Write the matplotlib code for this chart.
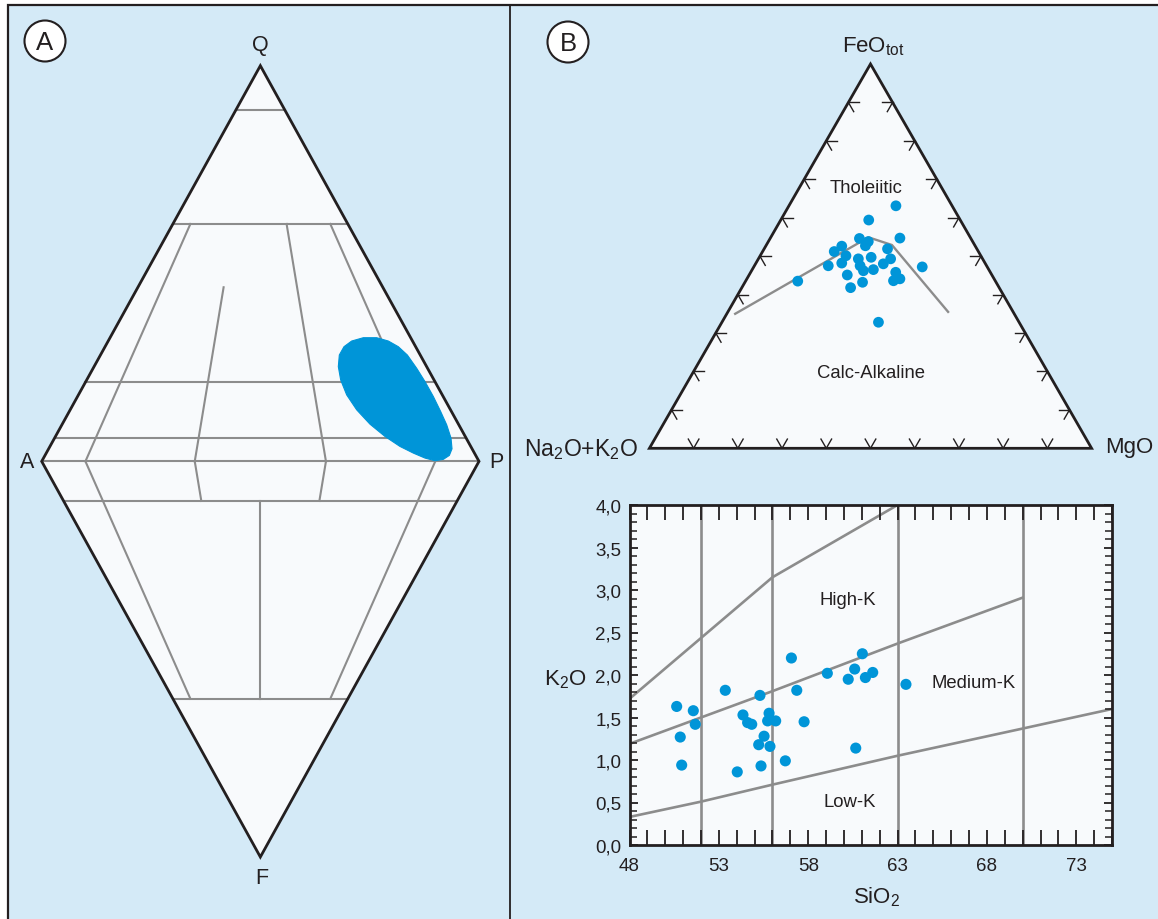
import numpy as np
import matplotlib
matplotlib.use('Agg')
import matplotlib.pyplot as plt
from matplotlib.patches import Polygon, Circle, Rectangle
from matplotlib.ticker import FixedLocator, FixedFormatter, MultipleLocator

plt.rcParams['font.family'] = ['Liberation Sans', 'DejaVu Sans']
plt.rcParams['mathtext.default'] = 'regular'

W, H = 1158, 920

BG_BLUE = '#d4eaf7'
FIELD = '#f8fafc'
DOT = '#0095d8'
GREY = '#8c8c8c'
INK = '#231f20'

# --- panel A: QAPF diamond ---
# horizontal boundaries (fraction Q above A-P, fraction F below)
q_levels = [0.888, 0.60, 0.20, 0.06, 0.0]
f_levels = [0.10, 0.60]
# P/(A+P) boundaries radiating from Q: ratio, from q, to q
q_ray_ratio = [0.10, 0.35, 0.65, 0.90]
q_ray_from = [0.60, 0.44, 0.60, 0.60]
q_ray_to = [0.0, 0.0, 0.0, 0.0]
# P/(A+P) boundaries radiating from F: ratio, from f, to f
f_ray_ratio = [0.10, 0.35, 0.50, 0.65, 0.90]
f_ray_from = [0.0, 0.0, 0.10, 0.0, 0.0]
f_ray_to = [0.60, 0.10, 0.60, 0.10, 0.60]
# outline of the sample field (x across A-P, y = Q fraction)
field_x = [0.7088, 0.7355, 0.7660, 0.7927, 0.8155, 0.8361, 0.8575, 0.8765, 0.8956,
           0.9123, 0.9261, 0.9360, 0.9383, 0.9322, 0.9184, 0.8994, 0.8765, 0.8498,
           0.8193, 0.7851, 0.7507, 0.7203, 0.6974, 0.6837, 0.6783, 0.6806, 0.6913]
field_y = [0.3041, 0.3125, 0.3125, 0.3041, 0.2898, 0.2688, 0.2352, 0.2016, 0.1638,
           0.1260, 0.0924, 0.0587, 0.0318, 0.0150, 0.0050, 0.0016, 0.0083, 0.0209,
           0.0377, 0.0629, 0.0940, 0.1302, 0.1680, 0.2058, 0.2394, 0.2688, 0.2898]

# --- panel B: AFM ternary (wt %) ---
afm_feo = [63.1, 59.4, 54.7, 54.6, 53.8, 52.7, 52.6, 51.2, 50.1, 51.9, 49.3, 49.7, 49.3, 48.2,
           47.5, 47.5, 48.0, 46.5, 46.2, 45.8, 47.2, 45.1, 43.6, 44.1, 43.5, 43.2, 41.8, 32.8]
afm_mgo = [24.2, 19.9, 29.3, 20.2, 22.6, 22.5, 17.2, 16.2, 19.4, 27.9, 29.9, 25.3, 22.6, 19.4,
           16.7, 23.9, 28.9, 27.4, 25.3, 32.8, 38.1, 22.2, 33.4, 34.6, 11.8, 26.6, 24.6, 35.4]
ib_feo = [35.0, 54.9, 52.9, 35.5]
ib_mgo = [1.9, 22.1, 28.4, 49.8]

# --- panel B: K2O vs SiO2 ---
sio2 = [50.64, 51.57, 51.68, 50.84, 50.92, 53.36, 54.35, 54.61, 54.84, 55.30,
        55.81, 55.73, 56.18, 55.53, 55.23, 55.86, 55.36, 54.03, 56.72, 57.06,
        57.36, 57.77, 59.07, 60.24, 60.60, 61.03, 61.20, 61.61, 60.66, 63.47]
k2o = [1.63, 1.58, 1.42, 1.27, 0.94, 1.82, 1.53, 1.44, 1.42, 1.76,
       1.55, 1.46, 1.46, 1.28, 1.18, 1.16, 0.93, 0.86, 0.99, 2.20,
       1.82, 1.45, 2.02, 1.95, 2.07, 2.25, 1.97, 2.03, 1.14, 1.89]
sho_si, sho_k = [48, 56, 63], [1.72, 3.15, 4.0]
hk_si, hk_k = [48, 52, 56, 63, 70], [1.19, 1.50, 1.81, 2.37, 2.91]
lk_si, lk_k = [48, 52, 56, 63, 70, 75], [0.33, 0.51, 0.71, 1.05, 1.37, 1.60]
sio2_dividers = [52, 56, 63, 70]
x_ticks = [48, 53, 58, 63, 68, 73]
y_ticks = [0.0, 0.5, 1.0, 1.5, 2.0, 2.5, 3.0, 3.5, 4.0]
y_tick_labels = ['0,0', '0,5', '1,0', '1,5', '2,0', '2,5', '3,0', '3,5', '4,0']


def qapf_up(q, r):
    return r * (1 - q) + q / 2, q


def qapf_down(f, r):
    return r * (1 - f) + f / 2, -f


def afm_xy(feo, mgo):
    feo = np.asarray(feo) / 100.0
    mgo = np.asarray(mgo) / 100.0
    return mgo + feo / 2, feo * np.sqrt(3) / 2


fig = plt.figure(figsize=(W / 100, H / 100), dpi=100)

# background panels
bg = fig.add_axes([0, 0, 1, 1])
bg.set_xlim(0, W)
bg.set_ylim(H, 0)
bg.axis('off')
bg.add_patch(Rectangle((8, 6), W - 8, H - 6, facecolor=BG_BLUE, edgecolor='none'))
bg.plot([8, 8, W], [H, 6, 6], color=INK, lw=1.6, solid_joinstyle='miter')
bg.plot([510, 510], [6, H], color=INK, lw=1.3)
for cx, cy, letter in [(45, 42, 'A'), (568, 43, 'B')]:
    bg.add_patch(Circle((cx, cy), 20.5, facecolor='white', edgecolor=INK, lw=1.5))
    bg.text(cx, cy + 1, letter, ha='center', va='center', fontsize=18.5, color=INK)

# ---------- panel A ----------
axA = fig.add_axes([41.7 / W, (H - 858) / H, 437.3 / W, (858 - 66.7) / H])
axA.set_xlim(0, 1)
axA.set_ylim(-1, 1)
axA.axis('off')
axA.add_patch(Polygon([(0, 0), (0.5, 1), (1, 0), (0.5, -1)], closed=True,
                      facecolor=FIELD, edgecolor='none', zorder=1))

for q in q_levels:
    (x0, y0), (x1, y1) = qapf_up(q, 0), qapf_up(q, 1)
    axA.plot([x0, x1], [y0, y1], color=GREY, lw=1.5, zorder=2, clip_on=False)
for f in f_levels:
    (x0, y0), (x1, y1) = qapf_down(f, 0), qapf_down(f, 1)
    axA.plot([x0, x1], [y0, y1], color=GREY, lw=1.5, zorder=2, clip_on=False)
for r, a, b in zip(q_ray_ratio, q_ray_from, q_ray_to):
    (x0, y0), (x1, y1) = qapf_up(a, r), qapf_up(b, r)
    axA.plot([x0, x1], [y0, y1], color=GREY, lw=1.5, zorder=2)
for r, a, b in zip(f_ray_ratio, f_ray_from, f_ray_to):
    (x0, y0), (x1, y1) = qapf_down(a, r), qapf_down(b, r)
    axA.plot([x0, x1], [y0, y1], color=GREY, lw=1.5, zorder=2)

axA.add_patch(Polygon(np.column_stack([field_x, field_y]), closed=True,
                      facecolor=DOT, edgecolor=DOT, lw=0.8, joinstyle='round', zorder=3))
axA.add_patch(Polygon([(0, 0), (0.5, 1), (1, 0), (0.5, -1)], closed=True,
                      facecolor='none', edgecolor=INK, lw=2.0, joinstyle='miter',
                      zorder=4, clip_on=False))

vertex_pos = {'Q': (0.5, 1), 'A': (0, 0), 'P': (1, 0), 'F': (0.5, -1)}
vertex_off = {'Q': (0, 15), 'A': (-10.5, 0), 'P': (12.5, 0), 'F': (1, -15)}
for name in ['Q', 'A', 'P', 'F']:
    axA.annotate(name, xy=vertex_pos[name], xytext=vertex_off[name],
                 textcoords='offset points', ha='center', va='center',
                 fontsize=15.5, color=INK)

# ---------- panel B: AFM ternary ----------
s3 = np.sqrt(3) / 2
axT = fig.add_axes([649.4 / W, (H - 449.3) / H, 442.2 / W, 384.3 / H])
axT.set_xlim(0, 1)
axT.set_ylim(0, s3)
axT.axis('off')
axT.add_patch(Polygon([(0, 0), (1, 0), (0.5, s3)], closed=True, facecolor=FIELD,
                      edgecolor='none', zorder=1))

tick_len = 0.024
c60, s60 = 0.5, s3
for i in range(1, 10):
    t = i / 10
    # bottom edge
    for dx, dy in [(c60, s60), (-c60, s60)]:
        axT.plot([t, t + dx * tick_len], [0, dy * tick_len], color=INK, lw=1.0, zorder=2)
    # left edge
    px, py = t / 2, t * s3
    for dx, dy in [(1, 0), (c60, -s60)]:
        axT.plot([px, px + dx * tick_len], [py, py + dy * tick_len], color=INK, lw=1.0, zorder=2)
    # right edge
    px = 1 - t / 2
    for dx, dy in [(-1, 0), (-c60, -s60)]:
        axT.plot([px, px + dx * tick_len], [py, py + dy * tick_len], color=INK, lw=1.0, zorder=2)

lx, ly = afm_xy(ib_feo, ib_mgo)
axT.plot(lx, ly, color=GREY, lw=1.7, zorder=3)
dx_, dy_ = afm_xy(afm_feo, afm_mgo)
axT.scatter(dx_, dy_, s=60, color=DOT, edgecolors='none', zorder=4)
axT.add_patch(Polygon([(0, 0), (1, 0), (0.5, s3)], closed=True, facecolor='none',
                      edgecolor=INK, lw=2.0, joinstyle='miter', zorder=5, clip_on=False))

axT.text(0.489, 0.588, 'Tholeiitic', ha='center', va='center', fontsize=13.3, color=INK)
axT.text(0.500, 0.170, 'Calc-Alkaline', ha='center', va='center', fontsize=13.3, color=INK)
axT.annotate('FeO$_{tot}$', xy=(0.5, s3), xytext=(2, 13), textcoords='offset points',
             ha='center', va='center', fontsize=16, color=INK)
axT.annotate('Na$_2$O+K$_2$O', xy=(0, 0), xytext=(-8.5, 0), textcoords='offset points',
             ha='right', va='center', fontsize=16.5, color=INK)
axT.annotate('MgO', xy=(1, 0), xytext=(10, 1), textcoords='offset points',
             ha='left', va='center', fontsize=16, color=INK)

# ---------- panel B: K2O vs SiO2 ----------
axS = fig.add_axes([629.5 / W, (H - 846) / H, 482.5 / W, 340 / H])
axS.set_facecolor(FIELD)
axS.set_xlim(48, 75)
axS.set_ylim(0, 4)
for v in sio2_dividers:
    axS.axvline(v, color=GREY, lw=1.9, zorder=1)
axS.plot(sho_si, sho_k, color=GREY, lw=1.9, zorder=1)
axS.plot(hk_si, hk_k, color=GREY, lw=1.9, zorder=1)
axS.plot(lk_si, lk_k, color=GREY, lw=1.9, zorder=1)
axS.scatter(sio2, k2o, s=64, color=DOT, edgecolors='none', zorder=3)

axS.text(60.19, 2.89, 'High-K', ha='center', va='center', fontsize=13.3, color=INK)
axS.text(67.28, 1.91, 'Medium-K', ha='center', va='center', fontsize=13.3, color=INK)
axS.text(60.31, 0.51, 'Low-K', ha='center', va='center', fontsize=13.3, color=INK)

axS.xaxis.set_major_locator(FixedLocator(x_ticks))
axS.xaxis.set_minor_locator(MultipleLocator(1))
axS.yaxis.set_major_locator(FixedLocator(y_ticks))
axS.yaxis.set_major_formatter(FixedFormatter(y_tick_labels))
axS.yaxis.set_minor_locator(MultipleLocator(0.1))
axS.tick_params(axis='x', which='both', direction='in', top=True, length=10.5,
                width=1.3, color=INK, labelsize=13.5, labelcolor=INK, pad=9)
axS.tick_params(axis='y', which='major', direction='in', right=True, length=6,
                width=1.3, color=INK, labelsize=13.5, labelcolor=INK, pad=6)
axS.tick_params(axis='y', which='minor', direction='in', right=True, length=5,
                width=1.1, color=INK)
for sp in axS.spines.values():
    sp.set_linewidth(2.0)
    sp.set_color(INK)

axS.set_ylabel('K$_2$O', rotation=0, fontsize=16, color=INK, ha='center', va='center')
axS.yaxis.set_label_coords(-0.134, 0.49)
axS.set_xlabel('SiO$_2$', fontsize=16, color=INK, ha='center', va='center')
axS.xaxis.set_label_coords(0.513, -0.15)

fig.savefig('out.png', dpi=100)
